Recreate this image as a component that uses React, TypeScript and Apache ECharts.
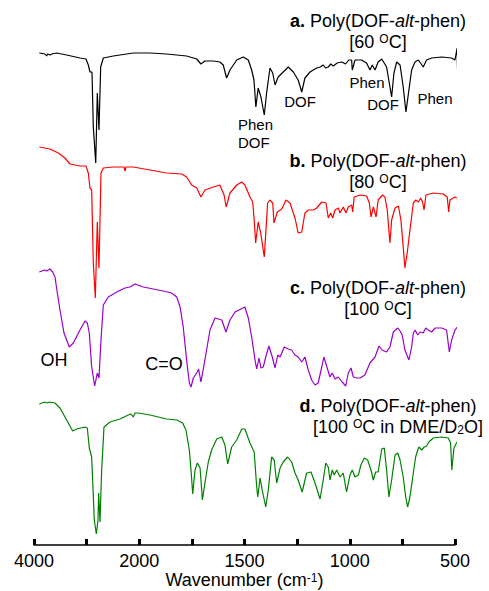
import React, { useEffect, useRef } from "react";
import * as echarts from "echarts";

// Spectra: [wavenumber (cm-1), relative transmittance (arb. units)]
const specA: [number, number][] = [
  [3899, 117], [3790, 116], [3760, 114], [3740, 116], [3696, 115], [3660, 116], [3569, 117], [3379, 115],
  [3126, 112], [3012, 111], [2968, 105], [2936, 98], [2898, 98], [2873, 43], [2827, 7], [2797, 77],
  [2765, 40], [2733, 103], [2683, 112], [2493, 114], [2113, 117], [1949, 117], [1870, 116], [1775, 114],
  [1727, 111], [1707, 106], [1688, 109], [1648, 109], [1617, 108], [1601, 105], [1585, 92], [1569, 100],
  [1537, 110], [1506, 113], [1482, 110], [1466, 100], [1455, 90], [1446, 63], [1435, 82], [1422, 73],
  [1406, 55], [1395, 77], [1379, 102], [1366, 97], [1355, 85], [1340, 93], [1316, 98], [1292, 103],
  [1268, 98], [1245, 90], [1228, 78], [1213, 92], [1189, 98], [1157, 102], [1140, 103], [1126, 105],
  [1115, 102], [1102, 103], [1090, 106], [1078, 104], [1060, 107], [1038, 108], [1020, 106], [1005, 110],
  [991, 110], [988, 100], [975, 110], [944, 110], [920, 107], [904, 100], [893, 105], [880, 100],
  [865, 108], [848, 111], [825, 103], [809, 83], [801, 73], [790, 97], [777, 108], [761, 105],
  [746, 83], [733, 58], [719, 80], [706, 100], [690, 108], [674, 110], [651, 103], [635, 110],
  [611, 112], [563, 113], [516, 112], [500, 110], [490, 122], [488, 100],
];

const specB: [number, number][] = [
  [3899, 153], [3696, 151], [3538, 147], [3411, 142], [3316, 136], [3126, 134], [3012, 134], [2968, 127],
  [2936, 112], [2904, 110], [2873, 37], [2835, 2], [2797, 78], [2765, 32], [2727, 127], [2683, 132],
  [2493, 133], [2290, 133], [2271, 129], [2252, 133], [2113, 133], [1949, 130], [1870, 127], [1798, 126],
  [1775, 123], [1751, 115], [1727, 112], [1707, 103], [1688, 110], [1648, 113], [1617, 115], [1597, 105],
  [1587, 93], [1569, 107], [1537, 115], [1513, 118], [1498, 115], [1474, 103], [1461, 98], [1454, 80],
  [1447, 57], [1435, 78], [1423, 67], [1406, 43], [1390, 97], [1379, 100], [1366, 97], [1360, 77],
  [1344, 88], [1323, 91], [1303, 100], [1284, 97], [1260, 82], [1245, 67], [1228, 68], [1213, 87],
  [1197, 90], [1173, 90], [1157, 92], [1133, 98], [1113, 97], [1102, 82], [1091, 87], [1081, 82],
  [1070, 90], [1054, 92], [1046, 87], [1031, 93], [1018, 87], [1007, 93], [991, 95], [986, 88],
  [979, 103], [951, 105], [920, 104], [907, 97], [899, 83], [888, 93], [875, 83], [865, 100],
  [844, 105], [833, 103], [822, 90], [809, 57], [801, 80], [785, 92], [769, 94], [757, 80],
  [746, 53], [738, 32], [727, 47], [714, 70], [698, 97], [686, 100], [674, 98], [663, 102],
  [654, 98], [647, 90], [638, 105], [603, 107], [556, 106], [537, 103], [530, 88], [524, 100],
  [508, 102], [500, 103], [492, 102],
];

const specC: [number, number][] = [
  [3899, 118], [3800, 120], [3759, 119], [3700, 121], [3645, 118], [3601, 113], [3557, 97], [3506, 80],
  [3430, 57], [3329, 43], [3253, 47], [3126, 60], [3031, 69], [2987, 67], [2949, 57], [2904, 23],
  [2847, 4], [2797, 17], [2765, 12], [2727, 50], [2683, 85], [2588, 93], [2429, 98], [2271, 102],
  [2176, 103], [2081, 106], [1981, 103], [1933, 101], [1886, 99], [1846, 97], [1822, 93], [1806, 83],
  [1791, 63], [1775, 30], [1762, 7], [1754, 3], [1743, 12], [1727, 17], [1718, 21], [1707, 8],
  [1699, 17], [1680, 40], [1664, 60], [1640, 72], [1608, 70], [1588, 58], [1569, 70], [1545, 78],
  [1498, 83], [1482, 72], [1466, 53], [1450, 30], [1442, 21], [1431, 32], [1422, 22], [1411, 23],
  [1399, 33], [1384, 44], [1368, 33], [1355, 22], [1342, 35], [1331, 33], [1311, 43], [1292, 41],
  [1276, 40], [1260, 35], [1245, 33], [1228, 28], [1213, 33], [1197, 20], [1181, 10], [1165, 5],
  [1150, 7], [1133, 23], [1123, 33], [1110, 24], [1094, 13], [1083, 17], [1070, 11], [1054, 13],
  [1036, 8], [1019, 4], [1007, 17], [994, 22], [983, 13], [967, 12], [951, 12], [928, 15],
  [904, 27], [880, 33], [861, 44], [846, 40], [825, 38], [809, 43], [793, 58], [772, 62],
  [761, 59], [751, 55], [738, 40], [719, 30], [706, 43], [698, 57], [690, 60], [677, 55],
  [666, 58], [651, 57], [639, 62], [627, 60], [611, 58], [595, 62], [563, 62], [540, 60],
  [527, 38], [516, 50], [500, 60], [485, 64],
];

const specD: [number, number][] = [
  [3899, 136], [3800, 138], [3759, 137], [3700, 138], [3601, 137], [3506, 132], [3379, 120], [3265, 109],
  [3189, 111], [3031, 113], [2987, 112], [2949, 92], [2904, 83], [2854, 20], [2816, 6], [2784, 20],
  [2771, 47], [2746, 18], [2714, 70], [2670, 113], [2556, 118], [2366, 121], [2208, 125], [2157, 126],
  [2113, 123], [2081, 127], [2018, 127], [1949, 125], [1870, 121], [1822, 120], [1794, 117], [1778, 110],
  [1762, 90], [1753, 67], [1746, 46], [1735, 70], [1724, 77], [1711, 72], [1700, 40], [1688, 57],
  [1672, 78], [1656, 90], [1632, 101], [1608, 103], [1593, 95], [1580, 76], [1561, 93], [1537, 100],
  [1513, 111], [1498, 111], [1474, 97], [1454, 88], [1442, 53], [1437, 43], [1426, 62], [1416, 50],
  [1399, 33], [1387, 50], [1371, 83], [1359, 80], [1347, 57], [1331, 72], [1316, 78], [1295, 83],
  [1276, 78], [1260, 67], [1245, 60], [1226, 48], [1205, 67], [1184, 68], [1165, 57], [1141, 41],
  [1126, 60], [1114, 77], [1102, 73], [1094, 60], [1083, 70], [1074, 65], [1062, 70], [1046, 63],
  [1031, 67], [1015, 48], [999, 65], [988, 70], [975, 63], [959, 65], [947, 75], [931, 82],
  [915, 80], [899, 70], [888, 60], [877, 68], [865, 68], [848, 91], [836, 92], [825, 70],
  [814, 43], [801, 60], [785, 85], [772, 87], [761, 80], [746, 63], [734, 43], [725, 33],
  [714, 43], [698, 67], [687, 83], [677, 90], [671, 93], [658, 90], [646, 93], [635, 94],
  [624, 98], [603, 102], [563, 103], [532, 102], [521, 97], [515, 70], [505, 92], [493, 97],
  [477, 101], [469, 102],
];

// Axis: broken wavenumber scale (4000-2000 compressed 4x), tick values and labels
const tickWavenumbers = [4000, 3000, 2000, 1750, 1500, 1250, 1000, 750, 500];
const labelledTicks = [4000, 2000, 1500, 1000, 500];

const seriesNames = ["a", "b", "c", "d"];
const seriesColors = ["#000000", "#ff0000", "#9900cc", "#008000"];
const seriesOffsets = [375, 245, 155, 5];

const toU = (w: number) => (w >= 2000 ? (4000 - w) / 4 : 500 + (2000 - w));
const fromU = (u: number) => (u <= 500 ? 4000 - 4 * u : 2500 - u);

const FONT = "'Liberation Sans', Arial, sans-serif";

export default function App() {
  const ref = useRef<HTMLDivElement>(null);
  useEffect(() => {
    if (!ref.current) return;
    const chart = echarts.init(ref.current, null, { renderer: "svg" });
    const specs = [specA, specB, specC, specD];
    const richTitle = {
      b: { fontWeight: "bold", fontSize: 18, fontFamily: FONT, fill: "#000" },
      i: { fontStyle: "italic", fontSize: 18, fontFamily: FONT, fill: "#000" },
      sup: { fontSize: 12, fontFamily: FONT, verticalAlign: "top", fill: "#000" },
      sub: { fontSize: 12, fontFamily: FONT, verticalAlign: "bottom", fill: "#000" },
    };
    const txt = (text: string, x: number, y: number, size: number, align = "center") => ({
      type: "text",
      x,
      y,
      silent: true,
      style: {
        text,
        fontSize: size,
        fontFamily: FONT,
        fill: "#000",
        align,
        textAlign: align,
        verticalAlign: "middle",
        textVerticalAlign: "middle",
        rich: richTitle,
      },
    });
    const titleLine1 = "{b|a.} Poly(DOF-{i|alt}-phen)";
    chart.setOption({
      animation: false,
      grid: { left: 34, right: 34, top: 10, bottom: 46, outerBoundsMode: "none", containLabel: false },
      xAxis: {
        type: "value",
        min: 0,
        max: 2000,
        interval: 250,
        splitLine: { show: false },
        axisLine: { lineStyle: { color: "#000", width: 1.5 } },
        axisTick: { inside: true, length: 6, lineStyle: { color: "#000", width: 3 } },
        axisLabel: {
          color: "#000",
          fontSize: 18,
          lineHeight: 16,
          fontFamily: FONT,
          margin: 8,
          formatter: (v: number) => {
            const w = Math.round(fromU(v));
            return tickWavenumbers.includes(w) && labelledTicks.includes(w) ? String(w) : "";
          },
        },
        name: "Wavenumber (cm{sup|-1})",
        nameLocation: "middle",
        nameGap: 27,
        nameMoveOverlap: false,
        nameTextStyle: {
          color: "#000",
          fontSize: 18,
          lineHeight: 16,
          fontFamily: FONT,
          rich: { sup: { fontSize: 12, lineHeight: 16, fontFamily: FONT, verticalAlign: "top", color: "#000" } },
        },
      },
      yAxis: { type: "value", min: 0, max: 535, show: false },
      series: specs.map((s, k) => ({
        type: "line",
        name: seriesNames[k],
        data: s.map(([w, t]) => [toU(w), seriesOffsets[k] + t]),
        showSymbol: false,
        clip: false,
        lineStyle: { color: seriesColors[k], width: 1.2 },
        itemStyle: { color: seriesColors[k] },
      })),
      graphic: [
        txt(titleLine1, 378, 21, 18),
        txt("[60 {sup|O}C]", 378, 42, 18),
        txt(titleLine1.replace("a.", "b."), 378, 161, 18),
        txt("[80 {sup|O}C]", 378, 182, 18),
        txt(titleLine1.replace("a.", "c."), 378, 288, 18),
        txt("[100 {sup|O}C]", 378, 309, 18),
        txt(titleLine1.replace("a.", "d."), 388, 406, 18),
        txt("[100 {sup|O}C in DME/D{sub|2}O]", 398, 427, 18),
        txt("Phen", 238, 124, 15, "left"),
        txt("DOF", 238, 142, 15, "left"),
        txt("DOF", 300, 101, 15),
        txt("Phen", 367, 82, 15),
        txt("DOF", 383, 104, 15),
        txt("Phen", 435, 98, 15),
        txt("OH", 54, 360, 18),
        txt("C=O", 164, 364, 18),
      ],
    });
    return () => chart.dispose();
  }, []);
  return <div ref={ref} style={{ width: 489, height: 591, position: "absolute", left: 0, top: 0 }} />;
}
